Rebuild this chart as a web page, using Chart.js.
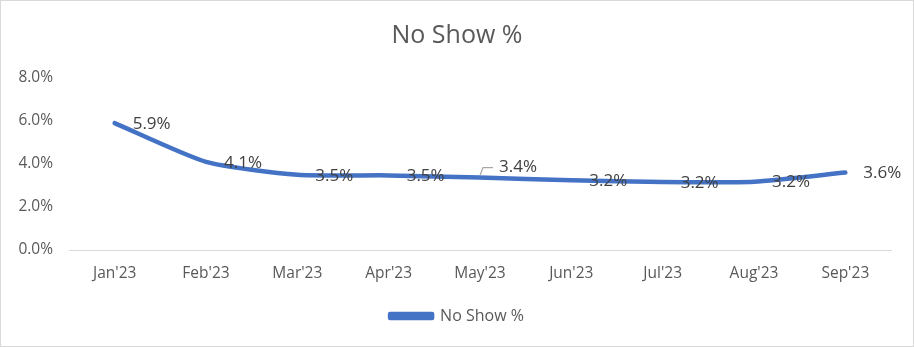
<!DOCTYPE html>
<html>
<head>
<meta charset="utf-8">
<script src="https://cdn.jsdelivr.net/npm/chart.js@4/dist/chart.umd.min.js"></script>
<style>
  html, body { margin: 0; padding: 0; background: #fff; }
  #wrap { width: 912px; height: 345px; border: 1px solid #D9D9D9; }
  canvas { display: block; }
</style>
</head>
<body>
<div id="wrap"><canvas id="c" width="912" height="345"></canvas></div>
<script>
const categories = ["Jan'23", "Feb'23", "Mar'23", "Apr'23", "May'23", "Jun'23", "Jul'23", "Aug'23", "Sep'23"];
const noShowPct = [5.9, 4.1, 3.5, 3.47, 3.37, 3.24, 3.16, 3.18, 3.6];
const yTicks = [0, 2, 4, 6, 8];

const FONT = "'Open Sans', sans-serif";
const TXT = '#595959';

const labelPlugin = {
  id: 'pointLabels',
  afterDatasetsDraw(chart) {
    const ctx = chart.ctx;
    const meta = chart.getDatasetMeta(0);
    ctx.save();
    ctx.font = "17px " + FONT;
    ctx.fillStyle = '#404040';
    ctx.textBaseline = 'middle';
    ctx.textAlign = 'left';
    meta.data.forEach((pt, i) => {
      const txt = noShowPct[i].toFixed(1) + '%';
      if (i === 4) {
        ctx.strokeStyle = '#A6A6A6';
        ctx.lineWidth = 1.2;
        ctx.beginPath();
        ctx.moveTo(pt.x, pt.y - 2);
        ctx.lineTo(pt.x + 3, pt.y - 10);
        ctx.lineTo(pt.x + 13, pt.y - 10);
        ctx.stroke();
        ctx.fillText(txt, pt.x + 19, pt.y - 10);
      } else {
        ctx.fillText(txt, pt.x + 18, pt.y + 1);
      }
    });
    ctx.restore();
  }
};

new Chart(document.getElementById('c'), {
  type: 'line',
  data: {
    labels: categories,
    datasets: [{
      label: 'No Show %',
      data: noShowPct,
      borderColor: '#4472C4',
      backgroundColor: '#4472C4',
      borderWidth: 4.5,
      borderCapStyle: 'round',
      borderJoinStyle: 'round',
      pointRadius: 0,
      tension: 0.2,
      fill: false
    }]
  },
  options: {
    responsive: false,
    animation: false,
    devicePixelRatio: 1,
    layout: { padding: { left: 0, right: 0, top: 0, bottom: 12 } },
    plugins: {
      title: {
        display: true,
        text: 'No Show %',
        color: TXT,
        font: { family: FONT, size: 25, weight: 'normal' },
        padding: { top: 20, bottom: 27 }
      },
      legend: {
        position: 'bottom',
        labels: {
          color: TXT,
          font: { family: FONT, size: 16 },
          boxWidth: 42,
          boxHeight: 4,
          padding: 8
        }
      },
      tooltip: { enabled: false }
    },
    scales: {
      x: {
        offset: true,
        grid: { display: false, drawTicks: false },
        border: { display: true, color: '#D9D9D9', width: 1 },
        ticks: { color: TXT, font: { family: FONT, size: 15.5 }, padding: 14, maxRotation: 0 },
        afterFit(s) { s.height = 50; }
      },
      y: {
        min: 0, max: 8,
        grid: { display: false, drawTicks: false },
        border: { display: false },
        afterBuildTicks(s) { s.ticks = yTicks.map(v => ({ value: v })); },
        ticks: {
          color: TXT,
          font: { family: FONT, size: 15.5 },
          padding: 16,
          callback: v => v.toFixed(1) + '%'
        },
        afterFit(s) { s.width = 68; }
      },
      yRightSpace: {
        position: 'right',
        min: 0, max: 8,
        grid: { display: false, drawTicks: false },
        border: { display: false },
        ticks: { display: false },
        afterFit(s) { s.width = 22; }
      }
    }
  },
  plugins: [labelPlugin]
});
</script>
</body>
</html>
